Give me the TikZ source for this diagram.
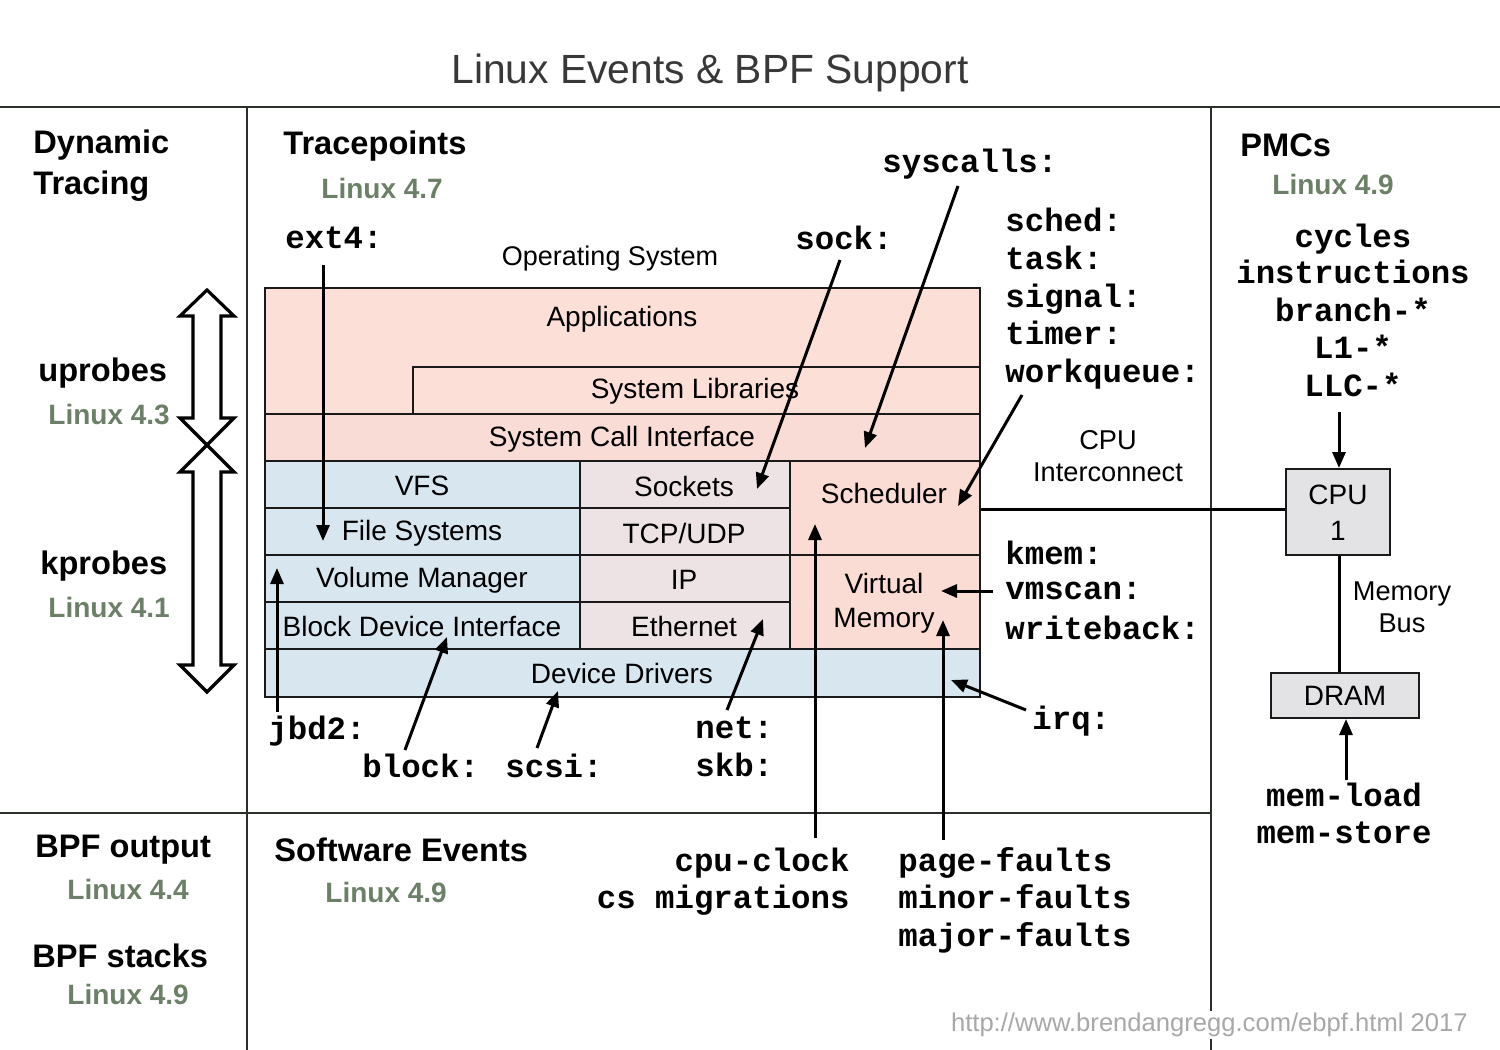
\documentclass[tikz,border=0pt]{standalone}
\usepackage{fontspec}
\setmainfont{Liberation Sans}
\newfontfamily\monofont{Liberation Mono}
\usetikzlibrary{arrows.meta,fit}
\definecolor{appc}{HTML}{FCE0D8}
\definecolor{scic}{HTML}{F9DCD6}
\definecolor{bluec}{HTML}{D8E7EF}
\definecolor{midc}{HTML}{EDE3E4}
\definecolor{schc}{HTML}{FADCD4}
\definecolor{cpuc}{HTML}{E3E3E6}
\definecolor{vergreen}{HTML}{6B8066}
\definecolor{linec}{HTML}{1A1A1A}
\definecolor{divc}{HTML}{2A2F2A}
\definecolor{urlc}{HTML}{A8A8A8}
\begin{document}
\begin{tikzpicture}[x=0.5pt,y=-0.5pt,
  head/.style={font=\bfseries\fontsize{16.3}{19}\selectfont, anchor=west, inner sep=0pt},
  ver/.style={font=\bfseries\fontsize{14}{17}\selectfont, text=vergreen, anchor=west, inner sep=0pt},
  tp/.style={font=\monofont\bfseries\fontsize{16.2}{19}\selectfont, anchor=west, inner sep=0pt, text depth=0pt},
  tpc/.style={tp, anchor=center},
  lbl/.style={font=\fontsize{14}{17}\selectfont, inner sep=0pt, align=center},
  layer/.style={draw=linec, line width=1pt, inner sep=0pt},
  arr/.style={line width=1.5pt, -{Triangle[length=8pt,width=6.5pt]}},
  divline/.style={draw=divc, line width=1pt},
  bigarrow/.style={draw=black, line width=1.6pt, fill=white, line join=miter}
]
\useasboundingbox (0,0) rectangle (1500,1050);

% title
\node[font=\fontsize{20.4}{24}\selectfont, text=black!78, inner sep=0pt] (title) at (710,73) {Linux Events \& BPF Support};

% dividers
\draw[divline] (0,107) -- (1500,107);
\draw[divline] (247,107) -- (247,1050);
\draw[divline] (1211,107) -- (1211,1050);
\draw[divline] (0,813) -- (1211,813);

% stack layers
\node[layer, fill=appc, fit={(265,288)(980,414)}] (apps) {};
\node[layer, fill=appc, fit={(413,367)(980,414)}] (libs) {};
\node[layer, fill=scic, fit={(265,414)(980,461)}] (sci) {};
\node[layer, fill=bluec, fit={(265,461)(580,508)}] (vfs) {};
\node[layer, fill=bluec, fit={(265,508)(580,555)}] (fs) {};
\node[layer, fill=bluec, fit={(265,555)(580,602)}] (vm) {};
\node[layer, fill=bluec, fit={(265,602)(580,649)}] (bdi) {};
\node[layer, fill=midc, fit={(580,461)(790,508)}] (sock) {};
\node[layer, fill=midc, fit={(580,508)(790,555)}] (tcp) {};
\node[layer, fill=midc, fit={(580,555)(790,602)}] (ip) {};
\node[layer, fill=midc, fit={(580,602)(790,649)}] (eth) {};
\node[layer, fill=schc, fit={(790,461)(980,555)}] (sched) {};
\node[layer, fill=schc, fit={(790,555)(980,649)}] (virt) {};
\node[layer, fill=bluec, fit={(265,649)(980,697)}] (dd) {};

\node[lbl] (tapps) at (622,319) {Applications};
\node[lbl] (tlibs) at (695,391) {System Libraries};
\node[lbl] (tsci) at (622,439) {System Call Interface};
\node[lbl] (tvfs) at (422,486) {VFS};
\node[lbl] (tfs) at (422,533) {File Systems};
\node[lbl] (tvm) at (422,580) {Volume Manager};
\node[lbl] (tbdi) at (422,626) {Block Device Interface};
\node[lbl] (tsock) at (684,486) {Sockets};
\node[lbl] (ttcp) at (684,533) {TCP/UDP};
\node[lbl] (tip) at (684,580) {IP};
\node[lbl] (teth) at (684,626) {Ethernet};
\node[lbl] (tsched) at (884,493) {Scheduler};
\node[lbl, font=\fontsize{14}{17}\selectfont] (tvirt) at (884,603) {Virtual\\Memory};
\node[lbl] (tdd) at (622,673) {Device Drivers};
\node[lbl, font=\fontsize{13.5}{16}\selectfont] (os) at (610,259) {Operating System};

% left panel
\node[head] (dyn) at (33,145) {Dynamic};
\node[head] (dyn2) at (33,186) {Tracing};
\node[head] (upr) at (38,373) {uprobes};
\node[ver] (v43) at (48,415) {Linux 4.3};
\node[head] (kpr) at (40,566) {kprobes};
\node[ver] (v41) at (48,607) {Linux 4.1};
\node[head] (bpfo) at (35,850) {BPF output};
\node[ver] (v44) at (67,889) {Linux 4.4};
\node[head] (bpfs) at (32,956) {BPF stacks};
\node[ver] (v49a) at (67,994) {Linux 4.9};

% double arrows
\draw[bigarrow] (207,290) -- (234,316) -- (221,316) -- (221,418) -- (234,418) -- (207,445)
  -- (180,418) -- (193,418) -- (193,316) -- (180,316) -- cycle;
\draw[bigarrow] (207,445) -- (234,472) -- (221,472) -- (221,665) -- (234,665) -- (207,692)
  -- (180,665) -- (193,665) -- (193,472) -- (180,472) -- cycle;

% tracepoints panel
\node[head] (tph) at (283,146) {Tracepoints};
\node[ver] (v47) at (321,188) {Linux 4.7};
\node[tp] (ext4) at (285,238) {ext4:};
\node[tp] (socklbl) at (795,238) {sock:};
\node[tp] (sysc) at (882,161) {syscalls:};
\node[tp] (schedl) at (1005,220) {sched:};
\node[tp] (taskl) at (1005,258) {task:};
\node[tp] (sigl) at (1005,296) {signal:};
\node[tp] (timl) at (1005,333) {timer:};
\node[tp] (wql) at (1005,371) {workqueue:};
\node[lbl, font=\fontsize{13.6}{16}\selectfont] (cpuic) at (1108,456) {CPU\\Interconnect};
\node[tp] (kmeml) at (1005,553) {kmem:};
\node[tp] (vmsl) at (1005,591) {vmscan:};
\node[tp] (wbl) at (1005,628) {writeback:};
\node[tp] (irql) at (1032,718) {irq:};
\node[tp] (jbdl) at (268,728) {jbd2:};
\node[tp] (blkl) at (362,766) {block:};
\node[tp] (scsil) at (505,766) {scsi:};
\node[tp] (netl) at (695,728) {net:};
\node[tp] (skbl) at (695,765) {skb:};

% software events
\node[head] (swe) at (274,850) {Software Events};
\node[ver] (v49b) at (325,892) {Linux 4.9};
\node[tp, anchor=east] (cpuclk) at (850,860) {cpu-clock};
\node[tp, anchor=east] (csm) at (850,897) {cs migrations};
\node[tp] (pgf) at (898,860) {page-faults};
\node[tp] (minf) at (898,897) {minor-faults};
\node[tp] (majf) at (898,935) {major-faults};

% PMCs
\node[head] (pmc) at (1240,145) {PMCs};
\node[ver] (v49c) at (1272,184) {Linux 4.9};
\node[tpc] (cyc) at (1353,236) {cycles};
\node[tpc] (ins) at (1353,272) {instructions};
\node[tpc] (brn) at (1353,310) {branch-*};
\node[tpc] (l1) at (1353,347) {L1-*};
\node[tpc] (llc) at (1353,385) {LLC-*};
\node[layer, fill=cpuc, fit={(1286,469)(1390,555)}] (cpu) {};
\node[lbl, font=\fontsize{14}{18}\selectfont] (tcpu) at (1338,513) {CPU\\1};
\node[layer, fill=cpuc, fit={(1271,673)(1419,718)}] (dram) {};
\node[lbl] (tdram) at (1345,696) {DRAM};
\node[lbl, font=\fontsize{13.6}{16}\selectfont] (mbus) at (1402,607) {Memory\\Bus};
\node[tpc] (mload) at (1344,795) {mem-load};
\node[tpc] (mstore) at (1344,833) {mem-store};

% URL
\node[font=\fontsize{12.8}{15}\selectfont, text=urlc, fill=white, inner sep=1pt, anchor=east] (url) at (1470,1025) {http://www.brendangregg.com/ebpf.html 2017};

% buses
\draw[line width=1.5pt] (sched.east |- 0,509) -- (cpu.west |- 0,509);
\draw[line width=1.5pt] (cpu.south -| 1339,0) -- (dram.north -| 1339,0);

% arrow coordinates
\coordinate (a1s) at (323,265); \coordinate (a1e) at (323,541);
\coordinate (a2s) at (840,260); \coordinate (a2e) at (757,489);
\coordinate (a3s) at (958,186); \coordinate (a3e) at (865,448);
\coordinate (a4s) at (1022,395); \coordinate (a4e) at (958,506);
\coordinate (a5s) at (993,591); \coordinate (a5e) at (941,591);
\coordinate (a6s) at (1026,710); \coordinate (a6e) at (951,680);
\coordinate (a7s) at (277,712); \coordinate (a7e) at (277,568);
\coordinate (a8s) at (405,750); \coordinate (a8e) at (447,637);
\coordinate (a9s) at (537,748); \coordinate (a9e) at (558,691);
\coordinate (a10s) at (727,710); \coordinate (a10e) at (763,619);
\coordinate (a11s) at (815,838); \coordinate (a11e) at (815,524);
\coordinate (a12s) at (943,840); \coordinate (a12e) at (943,620);
\coordinate (a13s) at (1339,412);
\coordinate (a14s) at (1346,780);

\draw[arr] (a1s) -- (a1e);
\draw[arr] (a2s) -- (a2e);
\draw[arr] (a3s) -- (a3e);
\draw[arr] (a4s) -- (a4e);
\draw[arr] (a5s) -- (a5e);
\draw[arr] (a6s) -- (a6e);
\draw[arr] (a7s) -- (a7e);
\draw[arr] (a8s) -- (a8e);
\draw[arr] (a9s) -- (a9e);
\draw[arr] (a10s) -- (a10e);
\draw[arr] (a11s) -- (a11e);
\draw[arr] (a12s) -- (a12e);
\draw[arr] (a13s) -- (a13s |- cpu.north);
\draw[arr] (a14s) -- (a14s |- dram.south);
\end{tikzpicture}
\end{document}
